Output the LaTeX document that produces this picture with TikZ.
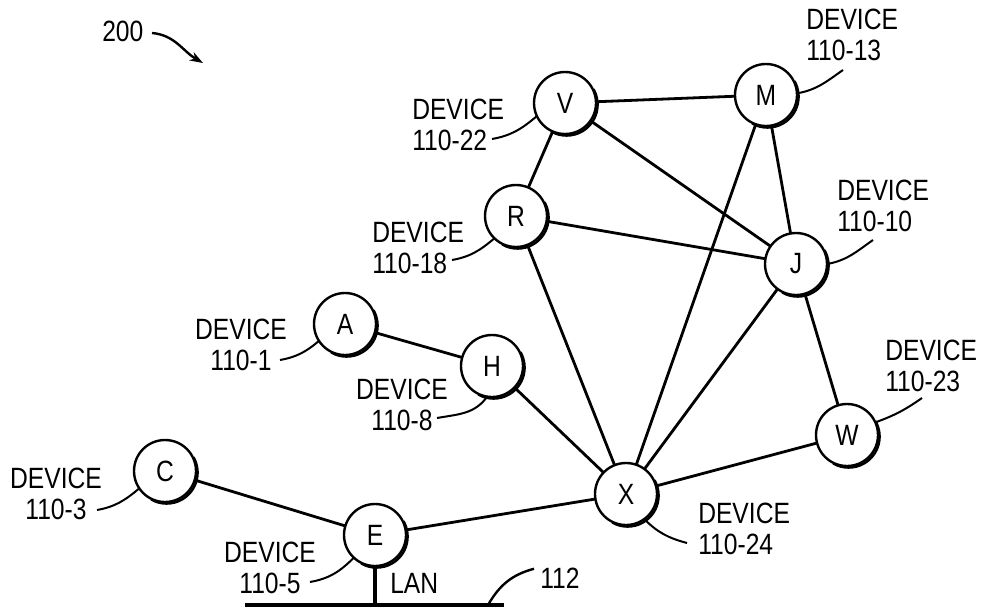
\documentclass[tikz,border=0pt]{standalone}
\usepackage{fontspec}
\setmainfont[FakeStretch=0.84]{Liberation Sans}
\usetikzlibrary{arrows.meta}
\begin{document}
\begin{tikzpicture}[x=0.75pt,y=-0.75pt,
  every node/.style={font=\fontsize{22}{23.25}\selectfont},
  dev/.style={circle,draw,line width=1.8pt,minimum size=46.5pt,inner sep=0pt,outer sep=0pt},
  link/.style={line width=2.1pt},
  lead/.style={line width=1.5pt},
  lbl/.style={inner sep=0pt,anchor=north west,align=left},
  lblc/.style={inner sep=0pt,anchor=north,align=center},
  txt/.style={inner sep=0pt,anchor=base west}]
\useasboundingbox (0,0) rectangle (982,610);

% devices
\node[dev] (V) at (565,103) {V};
\node[dev] (M) at (766,95) {M};
\node[dev] (R) at (516,216) {R};
\node[dev] (J) at (796,264) {J};
\node[dev] (A) at (345,324) {A};
\node[dev] (H) at (492,366) {H};
\node[dev] (W) at (847,435) {W};
\node[dev] (C) at (165,471) {C};
\node[dev] (X) at (626,494) {X};
\node[dev] (E) at (375,535) {E};

% shadow crescents
\foreach \n in {V,M,R,J,A,H,W,C,X,E}
  \draw[line width=1.8pt] ([shift={(1.2pt,-1.2pt)}]\n.30) arc[start angle=30,end angle=-120,radius=23.25pt];

% links
\draw[link] (V) -- (M);
\draw[link] (V) -- (R);
\draw[link] (V) -- (J);
\draw[link] (M) -- (J);
\draw[link] (M) -- (X);
\draw[link] (R) -- (J);
\draw[link] (R) -- (X);
\draw[link] (J) -- (X);
\draw[link] (J) -- (W);
\draw[link] (A) -- (H);
\draw[link] (H) -- (X);
\draw[link] (X) -- (W);
\draw[link] (X) -- (E);
\draw[link] (C) -- (E);

% LAN
\coordinate (lanL) at (245,605);
\coordinate (lanR) at (504,605);
\coordinate (lanT) at (E.south |- lanL);
\draw[line width=3pt] (lanL) -- (lanR);
\draw[line width=2.4pt] (E.south) -- (lanT);
\node[txt] (lan) at (390,593) {LAN};
\node[txt] (n112) at (540,588) {112};
\coordinate (lan112) at (488,605);
\draw[lead,line width=1.8pt] (n112.west) ++(-6,-9) coordinate (s112) (s112) to[out=195,in=60] (lan112);

% figure number
\node[txt] (n200) at (102,42) {200};
\coordinate (a200) at (203,63);
\draw[line width=1.8pt,-{Stealth[length=10pt,width=7pt]}] (152,33) coordinate (s200) (s200) to[out=-5,in=150] (a200);

% labels
\node[lbl] (lM) at (806,9) {DEVICE\\110-13};
\node[lbl] (lV) at (412,99) {DEVICE\\110-22};
\node[lbl] (lR) at (372,222) {DEVICE\\110-18};
\node[lbl] (lJ) at (837,180) {DEVICE\\110-10};
\node[lbl] (lW) at (885,340) {DEVICE\\110-23};
\node[lbl] (lX) at (698,503) {DEVICE\\110-24};
\node[lblc] (lA) at (241,319) {DEVICE\\110-1};
\node[lblc] (lH) at (402,379) {DEVICE\\110-8};
\node[lblc] (lC) at (56,468) {DEVICE\\110-3};
\node[lblc] (lE) at (270,542) {DEVICE\\110-5};

% leader ends
\coordinate (eM) at (843,70);
\coordinate (eV) at (492,139);
\coordinate (eR) at (452,260);
\coordinate (eJ) at (873,240);
\coordinate (eW) at (922,398);
\coordinate (eX) at (687,543);
\coordinate (eA) at (280,360);
\coordinate (eH) at (437,418);
\coordinate (eC) at (97,510);
\coordinate (eE) at (310,582);

\draw[lead] (M.3) to[out=10,in=215] (eM);
\draw[lead] (J.0) to[out=10,in=215] (eJ);
\draw[lead] (W.24) to[out=20,in=215] (eW);
\draw[lead] (V.205) to[out=220,in=10] (eV);
\draw[lead] (R.226) to[out=220,in=10] (eR);
\draw[lead] (A.213) to[out=220,in=10] (eA);
\draw[lead] (H.261) to[out=235,in=10] (eH);
\draw[lead] (C.214) to[out=220,in=10] (eC);
\draw[lead] (E.227) to[out=225,in=10] (eE);
\draw[lead] (X.306) to[out=-45,in=165] (eX);
\end{tikzpicture}
\end{document}
